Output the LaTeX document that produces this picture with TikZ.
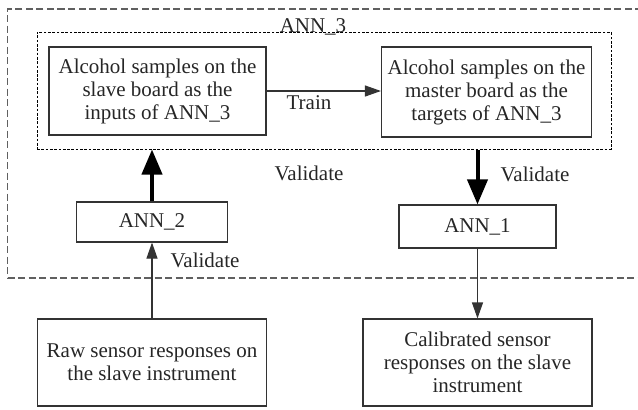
\documentclass[tikz,border=0pt]{standalone}
\usepackage{fontspec}
\setmainfont{Liberation Serif}
\usetikzlibrary{arrows.meta}
\begin{document}
\begin{tikzpicture}[x=1pt,y=-1pt,
  every node/.style={font=\fontsize{21}{23}\selectfont, inner sep=0pt, text=black!85},
  box/.style={draw=black!80, line width=1.1pt, align=center},
  thin/.style={line width=1.1pt, draw=black!80, -{Triangle[length=16pt,width=11pt]}},
  thick/.style={line width=4pt, -{Triangle[length=25pt,width=20pt]}},
  lbl/.style={anchor=center}]
\useasboundingbox (0,0) rectangle (638,410);
% outer dashed frame
\node[draw, line width=1.2pt, dash pattern=on 7pt off 3.5pt, gray!75!black, minimum width=650pt, minimum height=269pt] (outer) at (332.5,143.5) {};
% inner dotted frame
\node[draw, line width=1pt, dash pattern=on 2.7pt off 1.6pt, minimum width=574pt, minimum height=117pt] (inner) at (324,90.5) {};
\node[anchor=base] (ann3lbl) at (313,32) {ANN\_3};
\node[box, minimum width=217pt, minimum height=88pt] (slave) at (157.5,91) {Alcohol samples on the\\slave board as the\\inputs of ANN\_3};
\node[box, minimum width=210pt, minimum height=90pt] (master) at (486.5,92) {Alcohol samples on the\\master board as the\\targets of ANN\_3};
\node[box, minimum width=151pt, minimum height=40pt] (ann2) at (152,222) {ANN\_2};
\node[box, minimum width=157pt, minimum height=43pt] (ann1) at (477.5,226.5) {ANN\_1};
\node[box, minimum width=229pt, minimum height=87pt] (raw) at (152,362.5) {Raw sensor responses on\\the slave instrument};
\node[box, minimum width=229pt, minimum height=87pt] (cal) at (477.5,362.5) {Calibrated sensor\\responses on the slave\\instrument};
% connectors
\draw[thin] (slave.east) -- (master.west |- slave.east);
\node[lbl] (train) at (309,103) {Train};
\draw[thick] (ann2.north) -- (ann2.north |- inner.south);
\draw[thick] (ann1.north |- inner.south) -- (ann1.north);
\node[lbl] (val1) at (309,173) {Validate};
\node[lbl] (val2) at (535,174) {Validate};
\draw[thin] (raw.north) -- (ann2.south);
\node[lbl] (val3) at (205,260) {Validate};
\draw[thin] (ann1.south) -- (ann1.south |- cal.north);
\end{tikzpicture}
\end{document}
